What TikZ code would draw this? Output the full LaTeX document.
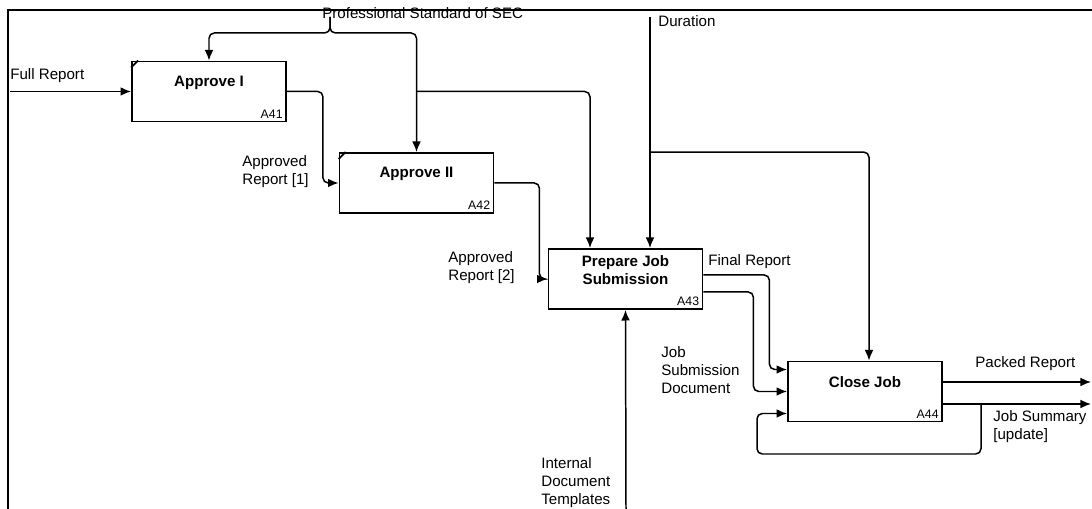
\documentclass[tikz,border=0pt]{standalone}
\usepackage{fontspec}
\setmainfont{Liberation Sans}
\usetikzlibrary{arrows.meta,calc,positioning}

\tikzset{
  act/.style={draw, line width=1.1pt, minimum width=3.08cm, minimum height=1.2cm, inner sep=0pt},
  acttitle/.style={font=\bfseries\fontsize{8.6}{10}\selectfont, align=center, inner sep=0pt},
  actnum/.style={font=\fontsize{7}{8}\selectfont, inner sep=0pt, anchor=south east},
  flow/.style={-{Latex[length=6pt,width=5pt]}, line width=0.85pt, rounded corners=3pt},
  lbl/.style={font=\fontsize{8.6}{10.2}\selectfont, align=left, inner sep=0pt, anchor=west},
}

\begin{document}
\begin{tikzpicture}[x=0.02cm,y=-0.02cm]
\useasboundingbox (0,0) rectangle (1092,509);

\def\activities{
a41/209/91.5/{Approve I}/A41,
a42/416.5/183/{Approve II}/A42,
a43/625.5/279/{Prepare Job\\Submission}/A43,
a44/865/391.5/{Close Job}/A44
}

% draw the frame
\draw[line width=1.1pt] (8,509) -- (8,10) -- (1092,10);

% draw the activity boxes
\foreach \nm/\cx/\cy/\ttl/\num in \activities
{
\node[act] (\nm) at (\cx,\cy) {};
\node[acttitle] (\nm-t) at ($(\nm.north)+(0,22)$) {\ttl};
\node[actnum] (\nm-n) at ($(\nm.south east)+(-4,-4)$) {\num};
}
\foreach \nm in {a41,a42}
\draw[line width=1pt] ($(\nm.north west)+(0,7)$) -- ($(\nm.north west)+(7,0)$);

% inputs
\coordinate (fullsrc) at (10,91.5);
\draw[flow] (fullsrc) -- (a41.west);
\node[lbl] (lfull) at (10,76) {Full Report};

% controls
\node[lbl] (lpsec) at (322,13) {Professional Standard of SEC};
\coordinate (psrc) at (330,17);
\coordinate (psplit) at (330,33);
\draw[flow] (psrc) -- (psplit) -| (a41.north);
\draw[flow] (psrc) -- (psplit) -| (a42.north);
\draw[flow] (a42.north |- a41.east) -| ($(a43.north)+(-35.5,0)$);

\node[lbl] (ldur) at (658,21) {Duration};
\coordinate (dsrc) at (650,17);
\draw[flow] (dsrc) -- (dsrc |- a43.north);
\draw[flow] (dsrc |- a42.north) -| ($(a44.north)+(4,0)$);

% mechanism
\coordinate (msrc) at (626,509);
\draw[flow] (msrc) -- (a43.south);
\node[lbl] (ltempl) at (541,483) {Internal\\Document\\Templates};

% flows between the activities
\draw[flow] (a41.east) -- ++(36,0) |- (a42.west);
\node[lbl] (lrep1) at (242,172) {Approved\\Report [1]};
\draw[flow] (a42.east) -- ++(45,0) |- (a43.west);
\node[lbl] (lrep2) at (448,268) {Approved\\Report [2]};
\draw[flow] ($(a43.east)+(0,-4)$) -- ++(66,0) |- ($(a44.west)+(0,-22)$);
\node[lbl] (lfinal) at (708,262) {Final Report};
\draw[flow] ($(a43.east)+(0,13)$) -- ++(50,0) |- (a44.west);
\node[lbl] (ljsd) at (661,370) {Job\\Submission\\Document};

% outputs
\coordinate (pkout) at (1091,382);
\coordinate (jsout) at (1091,404);
\draw[flow] (a44.east |- pkout) -- (pkout);
\node[lbl] (lpack) at (975,364) {Packed Report};
\draw[flow] (a44.east |- jsout) -- (jsout);
\node[lbl] (ljs) at (993,427) {Job Summary\\{[update]}};

% feedback into close job
\coordinate (fbk) at (981,404);
\coordinate (fbkturn) at (757,454);
\draw[flow] (fbk) |- (fbkturn) |- ($(a44.west)+(0,22)$);

\end{tikzpicture}
\end{document}
